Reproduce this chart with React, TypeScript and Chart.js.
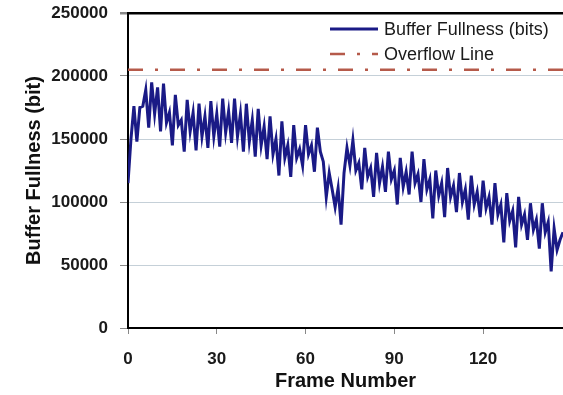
import { useEffect, useRef } from "react";
import { Chart, registerables } from "chart.js";

Chart.register(...registerables);

// Buffer fullness per frame (bits), frames 0..147
const bufferBits: number[] = [
  115000, 150000, 176000, 148000,
  175000, 176000, 189000, 159000,
  195000, 170000, 191000, 156000,
  194000, 163000, 171000, 145000,
  185000, 161000, 165000, 140000,
  181000, 156000, 171000, 141000,
  178000, 152000, 168000, 143000,
  180000, 152000, 170000, 144000,
  182000, 155000, 172000, 147000,
  182000, 152000, 170000, 140000,
  178000, 148000, 165000, 136000,
  174000, 145000, 160000, 134000,
  168000, 138000, 150000, 121000,
  164000, 135000, 145000, 120000,
  161000, 135000, 142000, 129000,
  161000, 138000, 145000, 124000,
  159000, 140000, 132000, 104000,
  123000, 110000, 96000, 111000,
  82000, 123000, 143000, 129000,
  149000, 125000, 131000, 110000,
  143000, 120000, 127000, 104000,
  139000, 115000, 128000, 108000,
  140000, 118000, 125000, 98000,
  135000, 112000, 124000, 106000,
  140000, 115000, 122000, 100000,
  134000, 110000, 118000, 87000,
  125000, 105000, 115000, 88000,
  127000, 104000, 113000, 92000,
  123000, 100000, 110000, 86000,
  121000, 98000, 108000, 88000,
  117000, 95000, 104000, 82000,
  115000, 90000, 98000, 68000,
  107000, 85000, 93000, 64000,
  104000, 82000, 90000, 70000,
  99000, 78000, 86000, 63000,
  99000, 76000, 84000, 45000,
  79000, 62000, 70000, 76000,
];
const overflowBits = 205000;
const xTickValues = [0, 30, 60, 90, 120];
const yTickValues = [0, 50000, 100000, 150000, 200000, 250000];
const seriesLabels = ["Buffer Fullness (bits)", "Overflow Line"];
const xTitle = "Frame Number";
const yTitle = "Buffer Fullness (bit)";

const FONT = '"Liberation Sans", Arial, sans-serif';

const insideLegend = {
  id: "insideLegend",
  afterDatasetsDraw(chart: any) {
    const { ctx, chartArea } = chart;
    const x0 = chartArea.right - 233;
    const rows = [chartArea.top + 16, chartArea.top + 41];
    ctx.save();
    chart.data.datasets.forEach((ds: any, i: number) => {
      const y = rows[i];
      ctx.strokeStyle = ds.borderColor;
      ctx.lineWidth = ds.borderWidth;
      ctx.setLineDash(ds.borderDash || []);
      ctx.beginPath();
      ctx.moveTo(x0, y);
      ctx.lineTo(x0 + 48, y);
      ctx.stroke();
      ctx.setLineDash([]);
      ctx.fillStyle = "#1a1a1a";
      ctx.font = `18px ${FONT}`;
      ctx.textBaseline = "middle";
      ctx.textAlign = "left";
      ctx.fillText(ds.label, x0 + 54, y + 1);
    });
    ctx.restore();
  },
};

export default function App() {
  const canvasRef = useRef<HTMLCanvasElement | null>(null);

  useEffect(() => {
    if (!canvasRef.current) return;
    const lastFrame = bufferBits.length - 1;
    const chart = new Chart(canvasRef.current, {
      type: "line",
      data: {
        datasets: [
          {
            label: seriesLabels[0],
            data: bufferBits.map((v, i) => ({ x: i, y: v })),
            borderColor: "#1a1a86",
            borderWidth: 3,
            pointRadius: 0,
            tension: 0,
          },
          {
            label: seriesLabels[1],
            data: [
              { x: 0, y: overflowBits },
              { x: lastFrame, y: overflowBits },
            ],
            borderColor: "#b55a4a",
            borderWidth: 2.5,
            borderDash: [15, 12, 3, 12],
            pointRadius: 0,
            tension: 0,
          },
        ],
      },
      options: {
        animation: false,
        responsive: true,
        maintainAspectRatio: false,
        layout: { padding: { left: 0, right: 0, top: 13, bottom: 0 } },
        plugins: {
          legend: { display: false },
          tooltip: { enabled: false },
        },
        scales: {
          x: {
            type: "linear",
            min: 0,
            max: lastFrame,
            afterBuildTicks: (scale: any) => {
              scale.ticks = xTickValues.map((v) => ({ value: v }));
            },
            afterFit: (scale: any) => {
              scale.height = 67;
              scale.paddingRight = 0;
            },
            ticks: {
              color: "#1a1a1a",
              font: { family: FONT, size: 17, weight: "bold" },
              padding: 15,
              maxRotation: 0,
              callback: (v: any) => String(v),
            },
            grid: {
              drawOnChartArea: false,
              drawTicks: true,
              tickLength: 6,
              tickColor: "#888888",
            },
            border: { display: true, color: "#000000", width: 2 },
            title: {
              display: true,
              text: xTitle,
              color: "#111111",
              font: { family: FONT, size: 20, weight: "bold" },
              padding: { top: 0, bottom: 2 },
            },
          },
          y: {
            type: "linear",
            min: 0,
            max: 250000,
            afterBuildTicks: (scale: any) => {
              scale.ticks = yTickValues.map((v) => ({ value: v }));
            },
            afterFit: (scale: any) => {
              scale.width = 128;
              scale.paddingTop = 0;
              scale.paddingBottom = 0;
            },
            ticks: {
              color: "#1a1a1a",
              font: { family: FONT, size: 17, weight: "bold" },
              padding: 12,
              callback: (v: any) => String(v),
            },
            grid: {
              drawTicks: true,
              tickLength: 8,
              tickColor: "#888888",
              color: (ctx: any) => {
                const v = ctx.tick ? ctx.tick.value : null;
                if (v === 250000) return "#000000";
                if (v === 0) return "rgba(0,0,0,0)";
                return "#c5d0d8";
              },
              lineWidth: (ctx: any) => {
                const v = ctx.tick ? ctx.tick.value : null;
                return v === 250000 ? 2.5 : 1;
              },
            },
            border: { display: true, color: "#000000", width: 2 },
            title: {
              display: true,
              text: yTitle,
              color: "#111111",
              font: { family: FONT, size: 20, weight: "bold" },
              padding: { top: 22, bottom: 0 },
            },
          },
        },
      } as any,
      plugins: [insideLegend],
    });
    return () => chart.destroy();
  }, []);

  return (
    <div
      style={{
        position: "fixed",
        left: 0,
        top: 0,
        width: "563px",
        height: "395px",
        background: "#ffffff",
        overflow: "hidden",
      }}
    >
      <canvas ref={canvasRef} />
    </div>
  );
}
